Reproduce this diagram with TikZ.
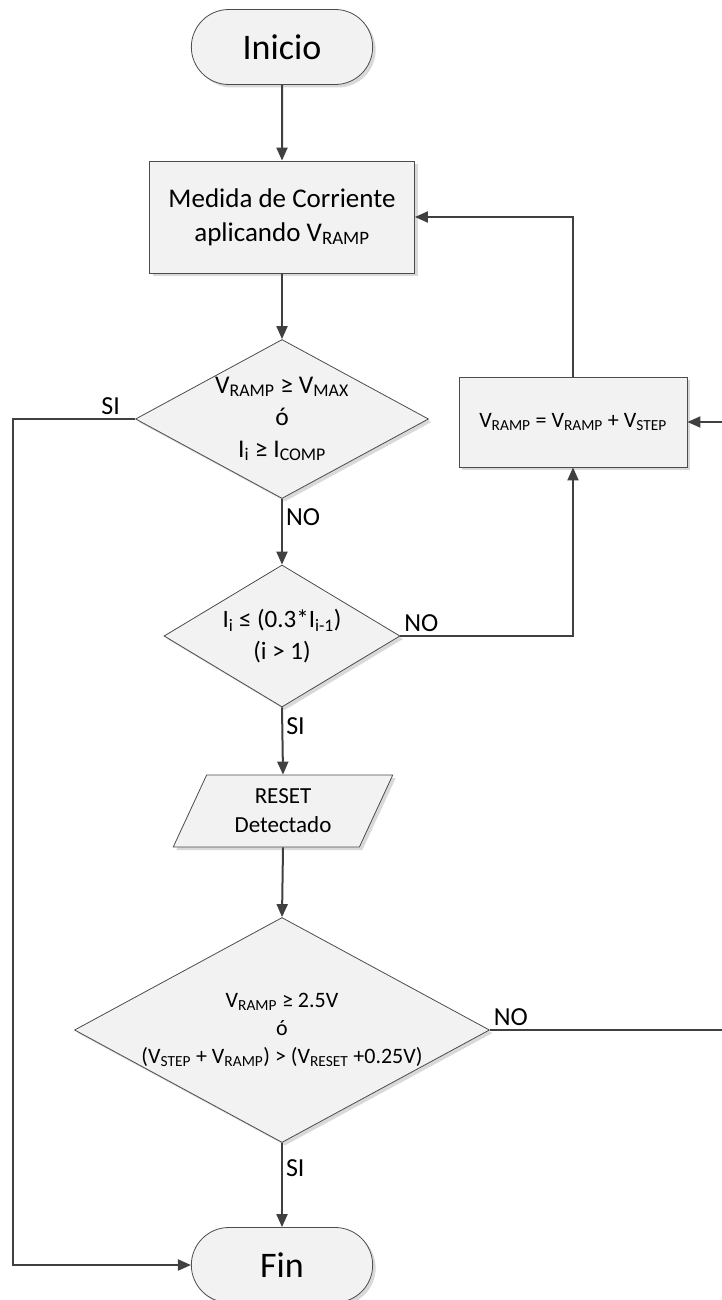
\documentclass[tikz,border=0pt]{standalone}
\usepackage{fontspec}
\setmainfont{Carlito}
\usetikzlibrary{arrows.meta,shapes.geometric,shapes.misc,shadows}

% subscripted variables
\newcommand{\Vx}[1]{V\textsubscript{#1}}
\newcommand{\Ix}[1]{I\textsubscript{#1}}

\begin{document}
\begin{tikzpicture}[x=1pt,y=-1pt,
  every node/.style={text=black},
  box/.style={draw=black!70, line width=0.8pt, fill=black!5,
    drop shadow={shadow xshift=3pt, shadow yshift=-3pt, fill=black!15, opacity=1}},
  term/.style={box, rounded rectangle, minimum width=188pt, minimum height=75pt,
    font=\fontsize{36}{40}\selectfont},
  proc/.style={box, rectangle, align=center},
  dec/.style={box, diamond, inner sep=0pt},
  io/.style={box, trapezium, trapezium left angle=66, trapezium right angle=114,
    trapezium stretches=true, align=center},
  dtext/.style={align=center, inner sep=0pt},
  flow/.style={draw=black!75, line width=2pt, -{Triangle[length=13pt,width=11pt]}},
  lbl/.style={font=\fontsize{26}{30}\selectfont, inner sep=3pt}]

  \useasboundingbox (0,0) rectangle (721,1300);

  % shapes
  \node[term] (ini) at (282,47) {Inicio};
  \node[proc, minimum width=265pt, minimum height=112pt,
    font=\fontsize{27}{34}\selectfont] (med) at (282,217)
    {Medida de Corriente\\aplicando \Vx{RAMP}};
  \node[dec, minimum width=293pt, minimum height=159pt,
    label={[dtext, font=\fontsize{25.5}{32}\selectfont]center:%
      \Vx{RAMP} ≥ \Vx{MAX}\\ó\\\Ix{i} ≥ \Ix{COMP}}] (d1) at (282,419) {};
  \node[proc, minimum width=228pt, minimum height=90pt,
    font=\fontsize{22}{26}\selectfont] (stp) at (573,422)
    {\Vx{RAMP} = \Vx{RAMP} + \Vx{STEP}};
  \node[dec, minimum width=236pt, minimum height=142pt,
    label={[dtext, font=\fontsize{25}{32}\selectfont]center:%
      \Ix{i} ≤ (0.3*\Ix{i-1})\\(i > 1)}] (d2) at (282,636) {};
  \node[io, minimum width=220pt, minimum height=72pt,
    font=\fontsize{23}{29}\selectfont] (rst) at (283,811)
    {RESET\\Detectado};
  \node[dec, minimum width=415pt, minimum height=225pt,
    label={[dtext, font=\fontsize{22}{28}\selectfont]center:%
      \Vx{RAMP} ≥ 2.5V\\ó\\(\Vx{STEP} + \Vx{RAMP}) > (\Vx{RESET} +0.25V)}] (d3) at (282,1030) {};
  \node[term] (fin) at (282,1265) {Fin};

  \coordinate (edgeL) at (13,0);
  \coordinate (edgeR) at (735,0);

  % connectors
  \draw[flow] (ini) -- (med);
  \draw[flow] (med) -- (d1);
  \draw[flow] (d1.west) -- (d1.west -| edgeL) node[lbl, pos=0.2, above] {SI}
    |- (fin.west);
  \draw[flow] (d1.south) -- (d2.north) node[lbl, pos=0.28, right] {NO};
  \draw[flow] (d2.east) -| (stp.south) node[lbl, pos=0, above right] {NO};
  \draw[flow] (stp.north) |- (med.east);
  \draw[flow] (d2.south) -- (rst.north) node[lbl, pos=0.28, right] {SI};
  \draw[flow] (rst.south) -- (d3.north);
  \draw[flow] (d3.south) -- (fin.north) node[lbl, pos=0.3, right] {SI};
  \draw[flow] (d3.east) -- (d3.east -| edgeR) node[lbl, pos=0, above right] {NO}
    |- (stp.east);
\end{tikzpicture}
\end{document}
